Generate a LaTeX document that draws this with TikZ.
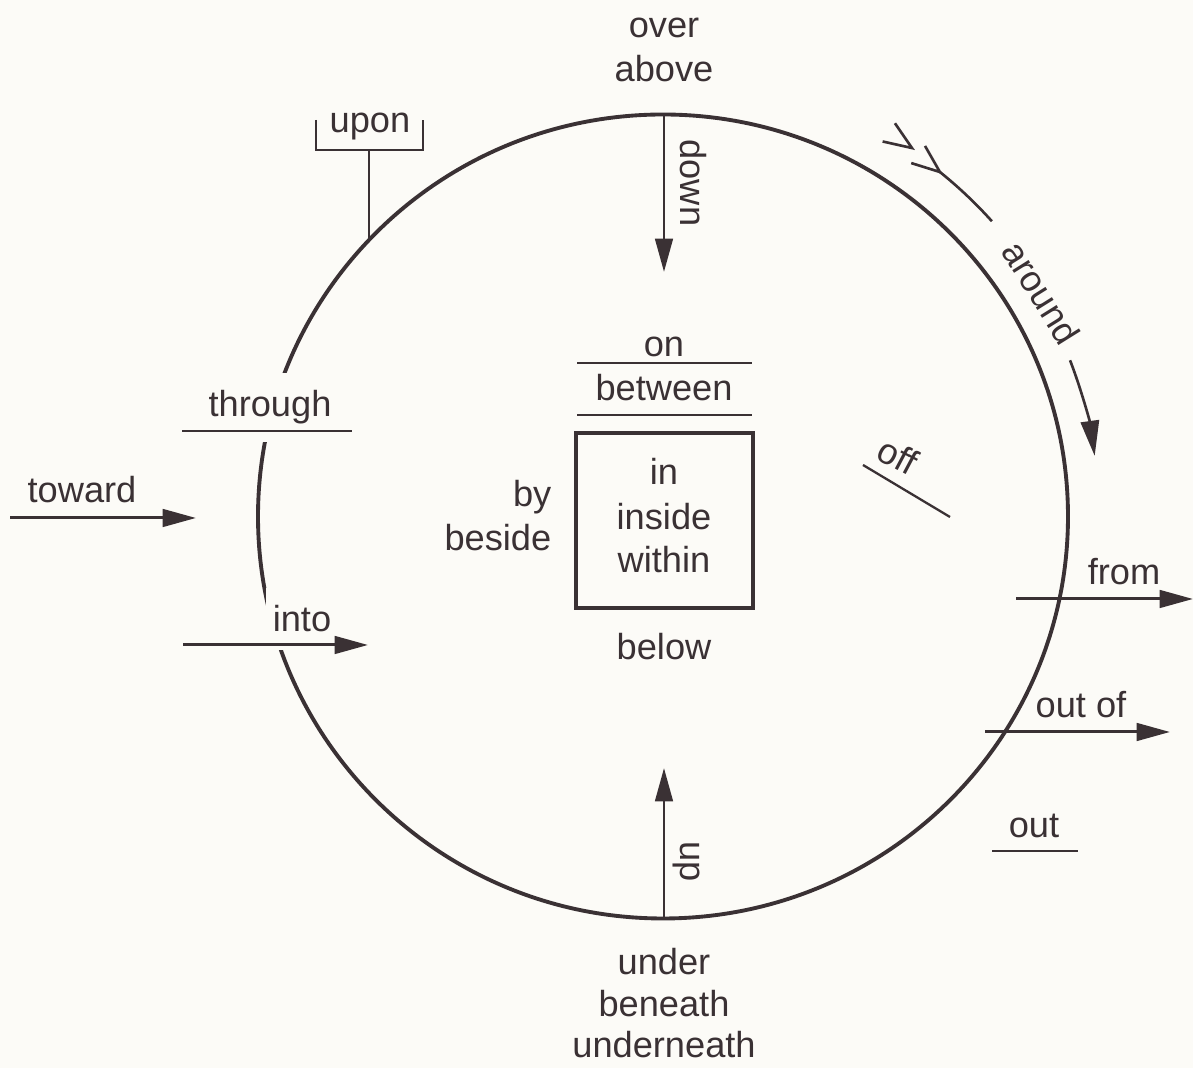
\documentclass[tikz,border=0pt]{standalone}
\usepackage{fontspec}
\setmainfont{Liberation Sans}
\usetikzlibrary{arrows.meta}
\definecolor{ink}{HTML}{3A3134}
\definecolor{paper}{HTML}{FCFBF7}
\begin{document}
\begin{tikzpicture}[x=0.01cm,y=0.01cm,
  font=\fontsize{10.3}{12.5}\selectfont,
  every node/.style={text=ink, inner sep=0pt},
  lbl/.style={anchor=base},
  rule/.style={draw=ink, line width=0.65pt},
  arr/.style={draw=ink, line width=0.85pt, -{Triangle[length=9.5pt,width=5pt]}},
  ring/.style={draw=ink, line width=1.1pt},
  cover/.style={fill=paper, inner xsep=2pt, inner ysep=5pt},
  ]
\fill[paper] (0,0) rectangle (1193,-1068);
\useasboundingbox (0,0) rectangle (1193,-1068);

% main circle
\coordinate (C) at (663,-516.5);
\draw[ring] (C) ellipse [x radius=405, y radius=402];
\coordinate (ctop) at (664,-115);
\coordinate (cbot) at (664,-918);
\coordinate (cupon) at (369,-240);

% top labels
\node[lbl] (over) at (664,-38) {over};
\node[lbl] (above) at (664,-82) {above};

% upon bracket
\node[lbl] (upon) at (370,-133) {upon};
\coordinate (ul) at (316,-120);
\coordinate (ulb) at (316,-150);
\coordinate (urb) at (423,-150);
\coordinate (ur) at (423,-120);
\coordinate (ustem) at (369,-150);
\draw[rule] (ul) -- (ulb) -- (urb) -- (ur);
\draw[rule] (ustem) -- (cupon);

% down / up
\coordinate (downend) at (664,-272);
\draw[arr] (ctop) -- (downend);
\node[lbl, rotate=-90] (down) at (680,-183) {down};
\coordinate (upend) at (664,-768);
\draw[arr] (cbot) -- (upend);
\node[lbl, rotate=-90] (up) at (680,-862) {up};

% around
\begin{scope}[shift={(C)}]
  \draw[ring, line width=0.75pt] (51.2:442) arc[start angle=51.2, end angle=41.9, radius=441];
  \draw[ring, line width=0.75pt, -{Triangle[length=10pt,width=5.2pt]}] (21:436) arc[start angle=21, end angle=7.9, radius=433];
  \begin{scope}[shift={(55.95:444.7)}, rotate=-34.05]
    \draw[ring, line width=0.75pt] (-28,11) -- (0,0) -- (-28,-11);
  \end{scope}
  \begin{scope}[shift={(51.2:442)}, rotate=-38.8]
    \draw[ring, line width=0.75pt] (-28,11) -- (0,0) -- (-28,-11);
  \end{scope}
  \node[rotate=-58] (around) at (30.6:440) {around};
\end{scope}

% centre block
\node[lbl] (on) at (664,-357) {on};
\draw[rule] (577,-363) -- (752,-363);
\node[lbl] (between) at (664,-401) {between};
\draw[rule] (577,-415) -- (752,-415);
\draw[draw=ink, line width=1.2pt] (576,-433) rectangle (753,-608);
\node[lbl] (in) at (664,-485) {in};
\node[lbl] (inside) at (664,-530) {inside};
\node[lbl] (within) at (664,-573) {within};
\node[anchor=base east] (by) at (552,-507) {by};
\node[anchor=base east] (beside) at (552,-551) {beside};
\node[lbl] (below) at (664,-660) {below};

% left side
\node[lbl, cover] (through) at (270,-417) {through};
\draw[rule] (182,-431) -- (352,-431);
\node[lbl] (toward) at (82,-503) {toward};
\coordinate (tw1) at (10,-518);
\coordinate (tw2) at (196,-518);
\draw[arr] (tw1) -- (tw2);
\node[lbl, cover] (into) at (302,-632) {into};
\coordinate (in1) at (183,-645);
\coordinate (in2) at (368,-645);
\draw[arr] (in1) -- (in2);

% off
\node[rotate=-28] (off) at (898,-456) {off};
\draw[rule] (863,-465) -- (950,-517);

% right side
\node[lbl] (from) at (1124,-585) {from};
\coordinate (fr1) at (1016,-599);
\coordinate (fr2) at (1193,-599);
\draw[arr] (fr1) -- (fr2);
\node[lbl] (outof) at (1081,-718) {out of};
\coordinate (oo1) at (985,-732);
\coordinate (oo2) at (1170,-732);
\draw[arr] (oo1) -- (oo2);
\node[lbl] (out) at (1034,-838) {out};
\draw[rule] (992,-851) -- (1078,-851);

% bottom labels
\node[lbl] (under) at (664,-975) {under};
\node[lbl] (beneath) at (664,-1017) {beneath};
\node[lbl] (underneath) at (664,-1058) {underneath};
\end{tikzpicture}
\end{document}
